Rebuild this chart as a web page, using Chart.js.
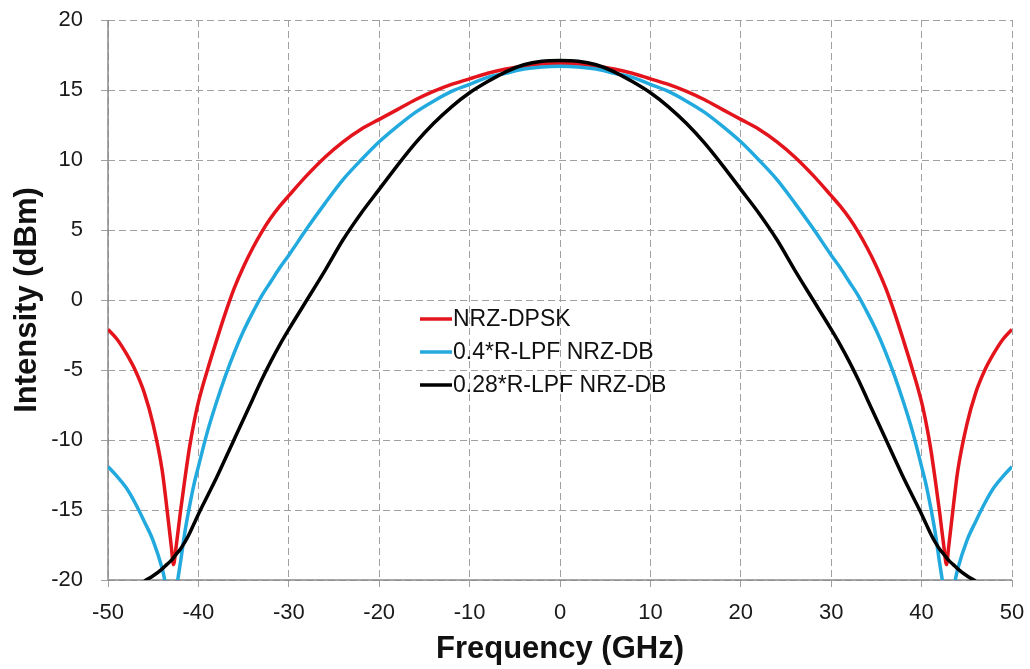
<!DOCTYPE html>
<html lang="en">
<head>
  <meta charset="UTF-8" />
  <title>Intensity spectrum</title>
  <script src="https://cdn.jsdelivr.net/npm/chart.js"></script>
  <style>
    body {
      margin: 0;
      background: #ffffff;
    }
    .wrap {
      position: relative;
      width: 1030px;
      height: 669px;
    }
  </style>
</head>
<body>
<div class="wrap">
  <canvas id="spectrum"></canvas>
</div>

<script>
// frequency points (GHz), shared by all three traces
const freq = [
  -50, -49, -48, -47, -46, -45, -44,
  -43.5, -43, -42.75, -42.5, -42, -41.5, -41, -40.5, -40,
  -39, -38, -37, -36, -35, -34, -33, -32, -31, -30,
  -28, -26, -24, -22, -20, -18, -16, -14, -12, -10, -8, -6, -4, -2,
  0,
  2, 4, 6, 8, 10, 12, 14, 16, 18, 20, 22, 24, 26, 28,
  30, 31, 32, 33, 34, 35, 36, 37, 38, 39,
  40, 40.5, 41, 41.5, 42, 42.5, 42.75, 43, 43.5,
  44, 45, 46, 47, 48, 49, 50
];

// intensity (dBm)
const nrzDpsk = [
  -2.1, -2.8, -3.8, -5.0, -6.6, -8.9, -12.2,
  -14.8, -17.6, -18.9, -17.8, -15.2, -12.8, -10.6, -8.8, -7.3,
  -5.0, -2.9, -0.9, 0.9, 2.4, 3.7, 4.85, 5.85, 6.7, 7.45,
  8.9, 10.2, 11.3, 12.2, 12.9, 13.6, 14.3, 14.9, 15.4, 15.8, 16.2, 16.5, 16.7, 16.85,
  16.9,
  16.85, 16.7, 16.5, 16.2, 15.8, 15.4, 14.9, 14.3, 13.6, 12.9, 12.2, 11.3, 10.2, 8.9,
  7.45, 6.7, 5.85, 4.85, 3.7, 2.4, 0.9, -0.9, -2.9, -5.0,
  -7.3, -8.8, -10.6, -12.8, -15.2, -17.8, -18.9, -17.6, -14.8,
  -12.2, -8.9, -6.6, -5.0, -3.8, -2.8, -2.1
];

const lpf04 = [
  -11.9, -12.6, -13.4, -14.5, -15.8, -17.2, -19.2,
  -20.6, -21.5, -21.5, -20.8, -18.8, -16.6, -14.8, -13.2, -11.9,
  -9.4, -7.3, -5.4, -3.7, -2.2, -0.9, 0.3, 1.3, 2.3, 3.2,
  5.1, 6.9, 8.6, 10.0, 11.3, 12.4, 13.4, 14.2, 14.9, 15.4, 15.9, 16.2, 16.5, 16.65,
  16.7,
  16.65, 16.5, 16.2, 15.9, 15.4, 14.9, 14.2, 13.4, 12.4, 11.3, 10.0, 8.6, 6.9, 5.1,
  3.2, 2.3, 1.3, 0.3, -0.9, -2.2, -3.7, -5.4, -7.3, -9.4,
  -11.9, -13.2, -14.8, -16.6, -18.8, -20.8, -21.5, -21.5, -20.6,
  -19.2, -17.2, -15.8, -14.5, -13.4, -12.6, -11.9
];

const lpf028 = [
  -21.5, -21.3, -21.0, -20.6, -20.1, -19.7, -19.2,
  -18.9, -18.6, -18.4, -18.2, -17.8, -17.3, -16.7, -16.0, -15.3,
  -14.0, -12.7, -11.3, -9.9, -8.5, -7.1, -5.7, -4.4, -3.2, -2.1,
  0.0, 2.1, 4.3, 6.2, 7.9, 9.6, 11.2, 12.6, 13.8, 14.8, 15.6, 16.3, 16.8, 17.05,
  17.1,
  17.05, 16.8, 16.3, 15.6, 14.8, 13.8, 12.6, 11.2, 9.6, 7.9, 6.2, 4.3, 2.1, 0.0,
  -2.1, -3.2, -4.4, -5.7, -7.1, -8.5, -9.9, -11.3, -12.7, -14.0,
  -15.3, -16.0, -16.7, -17.3, -17.8, -18.2, -18.4, -18.6, -18.9,
  -19.2, -19.7, -20.1, -20.6, -21.0, -21.3, -21.5
];

const seriesNames = ['NRZ-DPSK', '0.4*R-LPF NRZ-DB', '0.28*R-LPF NRZ-DB'];
const seriesColors = ['#e3141b', '#22aadf', '#000000'];

const xTicks = [-50, -40, -30, -20, -10, 0, 10, 20, 30, 40, 50];
const yTicks = [-20, -15, -10, -5, 0, 5, 10, 15, 20];

function toPoints(vals) {
  return freq.map((f, i) => ({ x: f, y: vals[i] }));
}

const fontFamily = '"Liberation Sans", Arial, sans-serif';
const gridColor = '#a0a0a0';
const axisColor = '#8a8a8a';

// solid left and bottom axis lines (grid lines stay dashed)
const solidAxes = {
  id: 'solidAxes',
  beforeDatasetsDraw(chart) {
    const { ctx, chartArea: a } = chart;
    ctx.save();
    ctx.strokeStyle = axisColor;
    ctx.lineWidth = 1.5;
    ctx.setLineDash([]);
    ctx.beginPath();
    ctx.moveTo(a.left, a.top);
    ctx.lineTo(a.left, a.bottom);
    ctx.lineTo(a.right, a.bottom);
    ctx.stroke();
    ctx.restore();
  }
};

// legend drawn inside the plot, like the original figure
const innerLegend = {
  id: 'innerLegend',
  afterDatasetsDraw(chart) {
    const ctx = chart.ctx;
    const x0 = 420, x1 = 452;
    const rows = [319, 352, 385];
    ctx.save();
    ctx.font = '23px ' + fontFamily;
    ctx.textBaseline = 'middle';
    ctx.textAlign = 'left';
    seriesNames.forEach((name, i) => {
      ctx.strokeStyle = seriesColors[i];
      ctx.lineWidth = 3.5;
      ctx.beginPath();
      ctx.moveTo(x0, rows[i]);
      ctx.lineTo(x1, rows[i]);
      ctx.stroke();
      ctx.fillStyle = '#111111';
      ctx.fillText(name, x1 + 1, rows[i] + 1);
    });
    ctx.restore();
  }
};

new Chart(document.getElementById('spectrum'), {
  type: 'line',
  data: {
    datasets: [
      { label: seriesNames[0], data: toPoints(nrzDpsk), borderColor: seriesColors[0], order: 2 },
      { label: seriesNames[1], data: toPoints(lpf04), borderColor: seriesColors[1], order: 1 },
      { label: seriesNames[2], data: toPoints(lpf028), borderColor: seriesColors[2], order: 0 }
    ]
  },
  options: {
    responsive: true,
    maintainAspectRatio: false,
    animation: false,
    layout: { padding: { left: 0, top: 20, right: 18, bottom: 0 } },
    elements: {
      line: { borderWidth: 3.5, cubicInterpolationMode: 'monotone', fill: false },
      point: { radius: 0 }
    },
    plugins: {
      legend: { display: false },
      tooltip: { enabled: false }
    },
    scales: {
      x: {
        type: 'linear',
        min: -50,
        max: 50,
        afterBuildTicks: (scale) => { scale.ticks = xTicks.map(v => ({ value: v })); },
        afterFit: (scale) => {
          scale.height = 89;
          scale.paddingLeft = 0;
          scale.paddingRight = 0;
        },
        ticks: { color: '#1a1a1a', font: { family: fontFamily, size: 22 }, padding: 13, maxRotation: 0 },
        grid: { color: gridColor, lineWidth: 1, tickLength: 7, tickColor: gridColor },
        border: { display: false, dash: [7, 4] },
        title: {
          display: true,
          text: 'Frequency (GHz)',
          color: '#111111',
          font: { family: fontFamily, size: 31, weight: 'bold' },
          padding: { top: 0, bottom: 1 }
        }
      },
      y: {
        min: -20,
        max: 20,
        afterBuildTicks: (scale) => { scale.ticks = yTicks.map(v => ({ value: v })); },
        afterFit: (scale) => {
          scale.width = 108;
          scale.paddingTop = 0;
          scale.paddingBottom = 0;
        },
        ticks: { color: '#1a1a1a', font: { family: fontFamily, size: 22 }, padding: 18 },
        grid: { color: gridColor, lineWidth: 1, tickLength: 7, tickColor: gridColor },
        border: { display: false, dash: [7, 4] },
        title: {
          display: true,
          text: 'Intensity (dBm)',
          color: '#111111',
          font: { family: fontFamily, size: 31, weight: 'bold' },
          padding: { top: 9, bottom: 0 }
        }
      }
    }
  },
  plugins: [solidAxes, innerLegend]
});
</script>
</body>
</html>
